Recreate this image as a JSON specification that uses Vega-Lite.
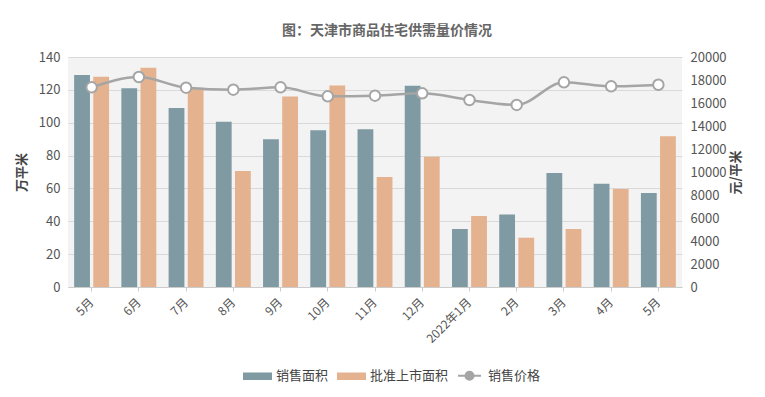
{
  "$schema": "https://vega.github.io/schema/vega-lite/v6.json",
  "width": 614,
  "height": 230,
  "autosize": {"type": "none"},
  "padding": {"left": 68, "top": 57, "right": 83, "bottom": 110},
  "background": "white",
  "config": {
    "font": "Noto Sans CJK SC",
    "view": {"stroke": null, "fill": "#f3f3f3"},
    "axis": {"labelColor": "#555555", "titleColor": "#555555", "labelFontSize": 13, "labelFont": "Noto Sans CJK SC", "titleFont": "Noto Sans CJK SC"}
  },
  "title": {"text": "图：天津市商品住宅供需量价情况", "fontSize": 14, "fontWeight": "bold", "color": "#666666", "offset": 13, "dx": 12, "font": "Noto Sans CJK SC"},
  "data": {"values": [
    {"m": "5月", "s": "销售面积", "v": 129}, {"m": "5月", "s": "批准上市面积", "v": 128}, {"m": "5月", "s": "销售价格", "v": 17360},
    {"m": "6月", "s": "销售面积", "v": 121}, {"m": "6月", "s": "批准上市面积", "v": 133.5}, {"m": "6月", "s": "销售价格", "v": 18260},
    {"m": "7月", "s": "销售面积", "v": 109}, {"m": "7月", "s": "批准上市面积", "v": 121.3}, {"m": "7月", "s": "销售价格", "v": 17330},
    {"m": "8月", "s": "销售面积", "v": 100.6}, {"m": "8月", "s": "批准上市面积", "v": 70.6}, {"m": "8月", "s": "销售价格", "v": 17160},
    {"m": "9月", "s": "销售面积", "v": 90}, {"m": "9月", "s": "批准上市面积", "v": 116}, {"m": "9月", "s": "销售价格", "v": 17360},
    {"m": "10月", "s": "销售面积", "v": 95.4}, {"m": "10月", "s": "批准上市面积", "v": 122.7}, {"m": "10月", "s": "销售价格", "v": 16580},
    {"m": "11月", "s": "销售面积", "v": 96}, {"m": "11月", "s": "批准上市面积", "v": 67}, {"m": "11月", "s": "销售价格", "v": 16640},
    {"m": "12月", "s": "销售面积", "v": 122.5}, {"m": "12月", "s": "批准上市面积", "v": 79.3}, {"m": "12月", "s": "销售价格", "v": 16840},
    {"m": "2022年1月", "s": "销售面积", "v": 35.3}, {"m": "2022年1月", "s": "批准上市面积", "v": 43.2}, {"m": "2022年1月", "s": "销售价格", "v": 16260},
    {"m": "2月", "s": "销售面积", "v": 44.2}, {"m": "2月", "s": "批准上市面积", "v": 30}, {"m": "2月", "s": "销售价格", "v": 15830},
    {"m": "3月", "s": "销售面积", "v": 69.4}, {"m": "3月", "s": "批准上市面积", "v": 35.3}, {"m": "3月", "s": "销售价格", "v": 17800},
    {"m": "4月", "s": "销售面积", "v": 62.9}, {"m": "4月", "s": "批准上市面积", "v": 59.6}, {"m": "4月", "s": "销售价格", "v": 17450},
    {"m": "5月 ", "s": "销售面积", "v": 57.2}, {"m": "5月 ", "s": "批准上市面积", "v": 91.7}, {"m": "5月 ", "s": "销售价格", "v": 17590}
  ]},
  "encoding": {
    "x": {
      "field": "m", "type": "nominal", "sort": null,
      "scale": {"paddingInner": 0.26, "paddingOuter": 0.13},
      "axis": {"title": null, "labelAngle": -45, "labelAlign": "right", "labelBaseline": "middle", "labelFontSize": 12, "labelPadding": 9, "domainColor": "#cccccc", "tickColor": "#cccccc", "tickSize": 4}
    },
    "color": {
      "field": "s", "type": "nominal",
      "scale": {"domain": ["销售面积", "批准上市面积", "销售价格"], "range": ["#7f9aa3", "#e5b28f", "#a5a5a5"]},
      "legend": {
        "title": null, "orient": "none", "direction": "horizontal", "legendX": 175, "legendY": 304,
        "labelFontSize": 13, "labelColor": "#444444", "symbolSize": 729, "columnPadding": 5, "labelOffset": 4,
        "symbolStrokeWidth": 2,
        "encode": {
          "symbols": {
            "update": {
              "shape": {"signal": "datum.value === '销售价格' ? 'M-0.85,0H-0.3M0.3,0H0.85M-0.3,0A0.3,0.3 0 1,0 0.3,0A0.3,0.3 0 1,0 -0.3,0' : 'M-1,-0.2H1V0.2H-1Z'"},
              "fill": {"signal": "datum.value === '销售价格' ? '#ffffff' : (datum.value === '销售面积' ? '#7f9aa3' : '#e5b28f')"},
              "fillOpacity": {"value": 1},
              "stroke": {"signal": "datum.value === '销售价格' ? '#a5a5a5' : 'transparent'"},
              "strokeWidth": {"value": 2}
            }
          }
        }
      }
    }
  },
  "layer": [
    {
      "transform": [{"filter": "datum.s !== '销售价格'"}],
      "mark": {"type": "bar"},
      "encoding": {
        "xOffset": {"field": "s", "type": "nominal", "sort": ["销售面积", "批准上市面积"], "scale": {"paddingInner": 0.174, "paddingOuter": 0}},
        "y": {"field": "v", "type": "quantitative", "scale": {"domain": [0, 140]},
          "axis": {"title": "万平米", "titleFontSize": 13, "titleFontWeight": "bold", "titleColor": "#444444", "values": [0, 20, 40, 60, 80, 100, 120, 140], "labelOverlap": false, "domain": false, "ticks": false, "labelPadding": 8, "gridColor": "#d9d9d9", "titlePadding": 10}}
      }
    },
    {
      "transform": [{"filter": "datum.s === '销售价格'"}],
      "layer": [
        {"mark": {"type": "line", "interpolate": "monotone", "strokeWidth": 2.5}},
        {"mark": {"type": "point", "filled": false, "fill": "white", "size": 110, "strokeWidth": 2, "opacity": 1}}
      ],
      "encoding": {
        "y": {"field": "v", "type": "quantitative", "scale": {"domain": [0, 20000]},
          "axis": {"orient": "right", "title": "元/平米", "titleAngle": 270, "titleFontSize": 13, "titleFontWeight": "bold", "titleColor": "#444444", "values": [0, 2000, 4000, 6000, 8000, 10000, 12000, 14000, 16000, 18000, 20000], "labelOverlap": false, "format": "d", "grid": false, "domain": false, "ticks": false, "labelPadding": 8, "titlePadding": 16}}
      }
    }
  ],
  "resolve": {"scale": {"y": "independent"}}
}
